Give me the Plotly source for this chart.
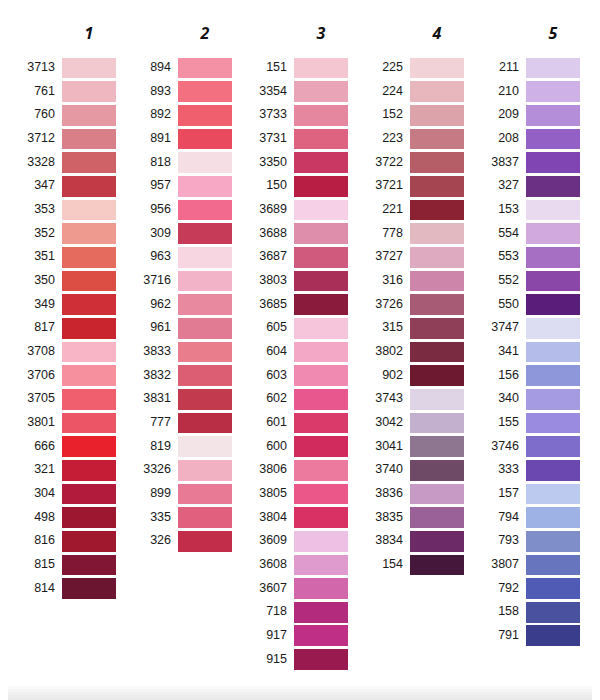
import plotly.graph_objects as go

headers = ["1", "2", "3", "4", "5"]

col1_codes = ["3713", "761", "760", "3712", "3328", "347", "353", "352", "351", "350", "349", "817",
              "3708", "3706", "3705", "3801", "666", "321", "304", "498", "816", "815", "814"]
col1_colors = ["#f2c9cf", "#efb8c0", "#e59aa3", "#d97f87", "#cf6266", "#c23a45", "#f6cbc6", "#ef9a8e",
               "#e56b5f", "#dc4e44", "#cf3037", "#c9252e", "#f8b5c6", "#f6909f", "#ef5f6d", "#ec5566",
               "#e8212c", "#c41d35", "#b21b3b", "#9e1730", "#a0182e", "#801634", "#6b1530"]

col2_codes = ["894", "893", "892", "891", "818", "957", "956", "309", "963", "3716", "962", "961",
              "3833", "3832", "3831", "777", "819", "3326", "899", "335", "326"]
col2_colors = ["#f591a5", "#f2707f", "#f05f6e", "#ea4a5e", "#f6dfe4", "#f6a8c4", "#f26a8e", "#c63c58",
               "#f7d6e2", "#f2b3c8", "#e8899f", "#e17b93", "#ea7d8c", "#dc5e72", "#c13a4e", "#b92e45",
               "#f3e4e7", "#f2b1c3", "#e87a95", "#e0607e", "#c22e4a"]

col3_codes = ["151", "3354", "3733", "3731", "3350", "150", "3689", "3688", "3687", "3803", "3685",
              "605", "604", "603", "602", "601", "600", "3806", "3805", "3804", "3609", "3608",
              "3607", "718", "917", "915"]
col3_colors = ["#f3c6d2", "#e9a5b7", "#e5879e", "#dd6381", "#c93862", "#b81e44", "#f5d0e6", "#de8dab",
               "#d0597e", "#a92f59", "#8b1b3c", "#f7c5db", "#f3a9c5", "#f08ab0", "#e8578d", "#d93a6a",
               "#d12a5c", "#ec7a9f", "#ea5788", "#d93163", "#eec1e4", "#e09bce", "#d367ac", "#b22b7d",
               "#c02f86", "#991a4f"]

col4_codes = ["225", "224", "152", "223", "3722", "3721", "221", "778", "3727", "316", "3726", "315",
              "3802", "902", "3743", "3042", "3041", "3740", "3836", "3835", "3834", "154"]
col4_colors = ["#f1d3d7", "#e8b6bd", "#dca3aa", "#c67a83", "#b55e67", "#a44551", "#8b2233", "#e3b9c1",
               "#deaac0", "#cd85a9", "#a85b75", "#8f3f58", "#7a2a41", "#6d1a31", "#dfd4e6", "#c2b0ce",
               "#8e7590", "#6e4a66", "#c69ac4", "#9a6098", "#6c2a67", "#45173b"]

col5_codes = ["211", "210", "209", "208", "3837", "327", "153", "554", "553", "552", "550", "3747",
              "341", "156", "340", "155", "3746", "333", "157", "794", "793", "3807", "792", "158", "791"]
col5_colors = ["#dccbec", "#ceb1e6", "#b48ed8", "#9361c6", "#8045b2", "#6b3083", "#eadaef", "#d1a9df",
               "#a66fc3", "#8b47a8", "#5a1d79", "#dcdcf2", "#b4bce9", "#8d97d9", "#a49be3", "#9a8be0",
               "#7e6dcb", "#6b47b0", "#bccaf0", "#9fb2e5", "#7f8ec8", "#6675be", "#4f5bb5", "#4a52a0",
               "#3a3d8c"]

columns = [(col1_codes, col1_colors), (col2_codes, col2_colors), (col3_codes, col3_colors),
           (col4_codes, col4_colors), (col5_codes, col5_colors)]

# the page body adds an 8px margin, so the figure is 8px smaller and shifted
OFF = 8
W, H = 600 - OFF, 700 - OFF
col_pitch_px = 116.0
row_pitch_px = 23.66
first_center_x = 89.0 - OFF
first_center_y = 68.0 - OFF
header_y_px = 35.0 - OFF
swatch_w = 54.0 / col_pitch_px
swatch_h = 20.7 / row_pitch_px

x_range = [1 - first_center_x / col_pitch_px, 1 + (W - first_center_x) / col_pitch_px]
y_range = [(H - first_center_y) / row_pitch_px, -first_center_y / row_pitch_px]

fig = go.Figure()
for k, (codes, colors) in enumerate(columns, start=1):
    n = len(codes)
    rows = list(range(n))
    fig.add_trace(go.Bar(
        x=[k] * n,
        y=[swatch_h] * n,
        base=[r - swatch_h / 2 for r in rows],
        width=swatch_w,
        marker=dict(color=colors, line=dict(width=0)),
        hovertext=codes,
        hoverinfo="text",
        showlegend=False,
    ))
    fig.add_trace(go.Scatter(
        x=[k - swatch_w / 2 - 7.0 / col_pitch_px] * n,
        y=rows,
        mode="text",
        text=codes,
        textposition="middle left",
        textfont=dict(family="Liberation Sans, Arial", size=12.5, color="#1a1a1a"),
        hoverinfo="skip",
        showlegend=False,
    ))

fig.add_trace(go.Scatter(
    x=list(range(1, len(headers) + 1)),
    y=[(header_y_px - first_center_y) / row_pitch_px] * len(headers),
    mode="text",
    text=["<b><i>%s</i></b>" % h for h in headers],
    textposition="middle center",
    textfont=dict(family="Open Sans, Liberation Sans", size=16, color="#111111"),
    hoverinfo="skip",
    showlegend=False,
))

# soft grey band at bottom edge
greys = ["#fafafa", "#f5f5f5", "#f0f0f0", "#ececec", "#e9e9e9"]
for i, g in enumerate(greys):
    fig.add_shape(type="rect", xref="paper", yref="paper", x0=0, x1=1,
                  y0=0, y1=(14 - i * 3) / H, fillcolor=g, line=dict(width=0), layer="below")

fig.update_layout(
    width=W, height=H,
    margin=dict(l=0, r=0, t=0, b=0),
    paper_bgcolor="white", plot_bgcolor="white",
    barmode="overlay",
    bargap=0,
    xaxis=dict(range=x_range, visible=False, fixedrange=True),
    yaxis=dict(range=y_range, visible=False, fixedrange=True),
)

fig.write_html("out.html")
